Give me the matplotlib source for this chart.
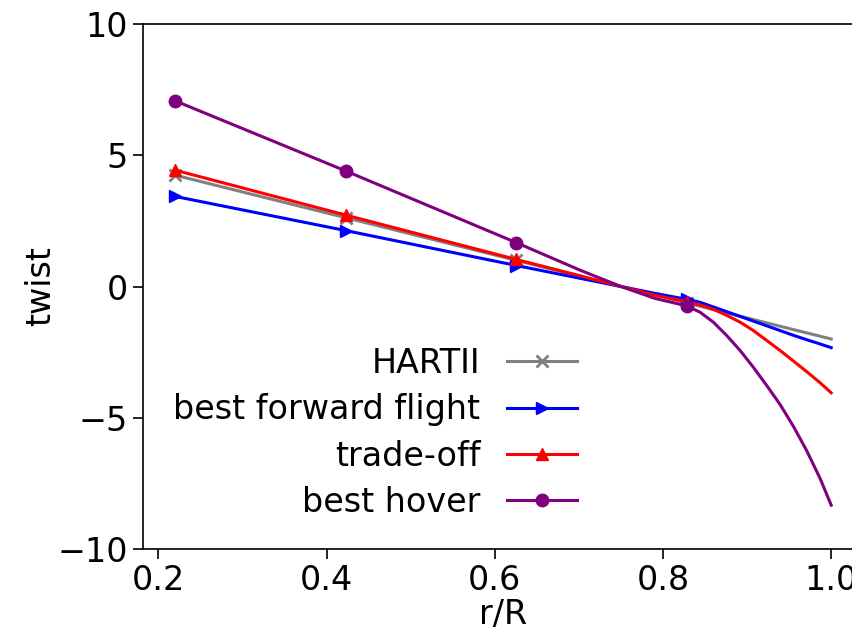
import matplotlib
matplotlib.use("Agg")
import matplotlib.pyplot as plt

# radial stations r/R
r = [0.22, 0.4228, 0.6256, 0.70, 0.75, 0.79, 0.8284, 0.844, 0.8599, 0.8758,
     0.8917, 0.9075, 0.9235, 0.9393, 0.9551, 0.9711, 0.9869, 1.0]
marker_idx = [0, 1, 2, 6]

hartii = [4.24, 2.62, 0.995, 0.40, 0.0, -0.32, -0.627, -0.752, -0.879, -1.006,
          -1.134, -1.26, -1.388, -1.514, -1.641, -1.769, -1.895, -2.0]
best_ff = [3.43, 2.13, 0.80, 0.32, 0.0, -0.26, -0.49, -0.60, -0.78, -0.96,
           -1.14, -1.32, -1.50, -1.68, -1.86, -2.03, -2.19, -2.33]
trade_off = [4.43, 2.72, 1.03, 0.42, 0.0, -0.33, -0.58, -0.70, -0.87, -1.10,
             -1.36, -1.68, -2.06, -2.44, -2.84, -3.25, -3.67, -4.05]
best_hover = [7.07, 4.40, 1.67, 0.64, 0.0, -0.45, -0.74, -0.98, -1.36, -1.87,
              -2.44, -3.08, -3.78, -4.50, -5.33, -6.27, -7.32, -8.33]

labels = ["HARTII", "best forward flight", "trade-off", "best hover"]
colors = ["gray", "blue", "red", "purple"]
markers = ["x", ">", "^", "o"]
xticks = [0.2, 0.4, 0.6, 0.8, 1.0]
yticks = [-10, -5, 0, 5, 10]

fs = 24
fig = plt.figure(figsize=(8.52, 6.33), dpi=100)
ax = fig.add_axes([142.5 / 852, (633 - 549) / 633, (864 - 142.5) / 852, (549 - 24) / 633])

for ys, lab, c, m in zip([hartii, best_ff, trade_off, best_hover], labels, colors, markers):
    ax.plot(r, ys, color=c, marker=m, markevery=marker_idx, lw=2.2,
            markersize=9 if m != "x" else 8, mew=2 if m == "x" else 1, label=lab)

ax.set_ylim(-10, 10)
ax.set_xlim(0.181, 1.039)
ax.set_xticks(xticks)
ax.set_yticks(yticks)
ax.tick_params(labelsize=fs, length=7, width=1.2)
for s in ax.spines.values():
    s.set_linewidth(1.2)
ax.set_xlabel("r/R", fontsize=fs, labelpad=1)
ax.set_ylabel("twist", fontsize=fs, labelpad=0)

ax.legend(loc="lower right", bbox_to_anchor=((607 - 142.5) / (864 - 142.5), 0.0),
          frameon=False, markerfirst=False, fontsize=fs, handlelength=2.1,
          labelspacing=0.40)

fig.savefig("out.png", dpi=100)
